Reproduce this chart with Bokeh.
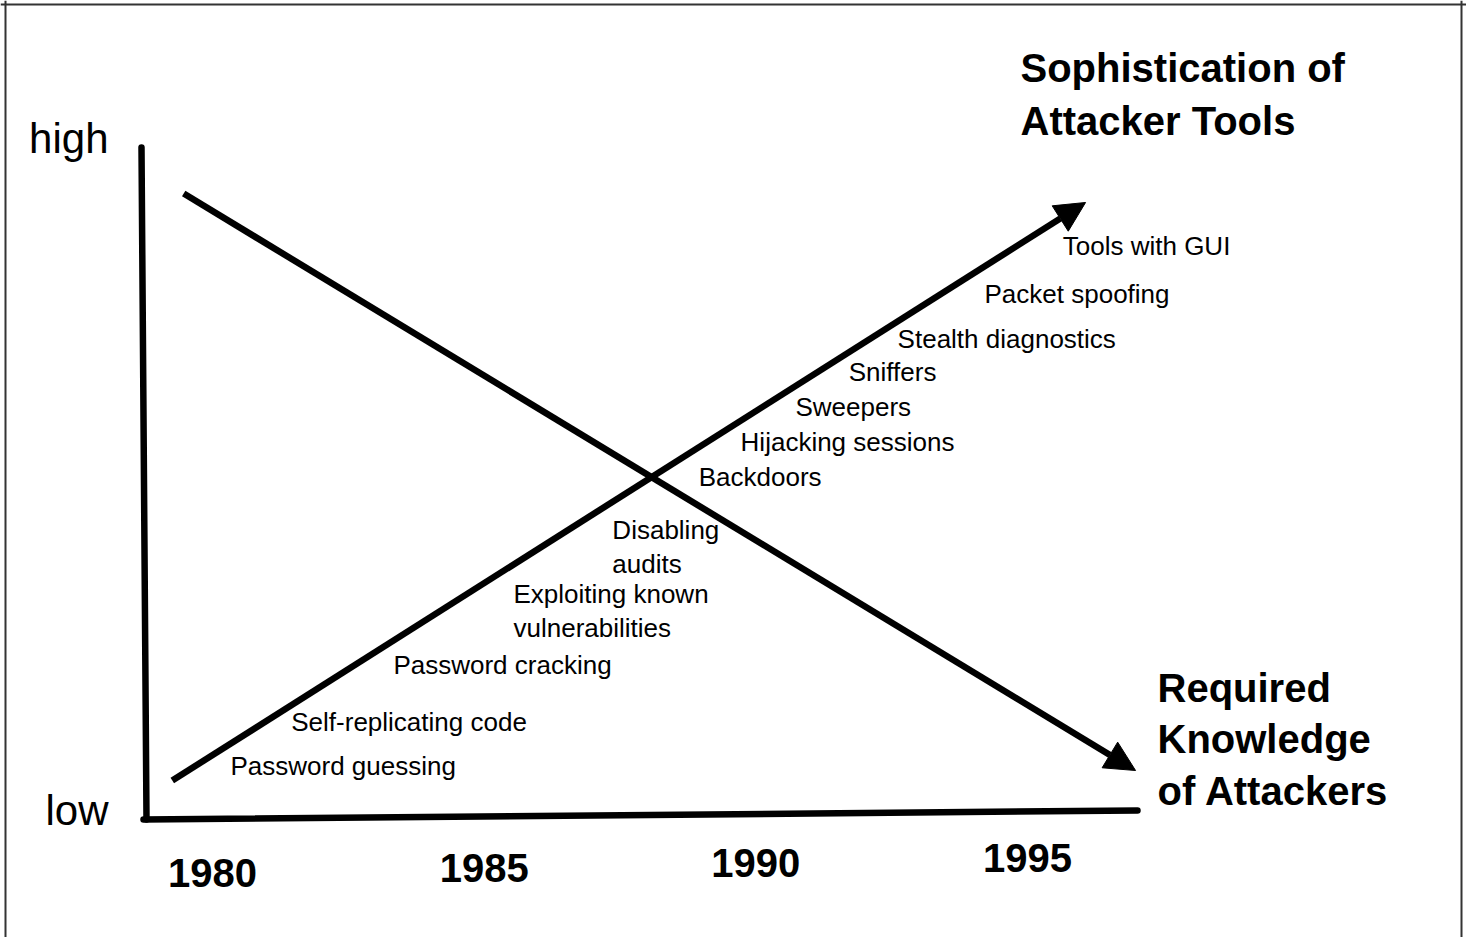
from bokeh.plotting import figure
from bokeh.models import Range1d, Arrow, NormalHead, ColumnDataSource, Span
from bokeh.core.properties import value
from bokeh.embed import file_html
from bokeh.resources import INLINE

# ---------------- data ----------------
years = [1980, 1985, 1990, 1995]
levels = [0, 100]
level_labels = ["low", "high"]

series_names = ["Sophistication of\nAttacker Tools", "Required\nKnowledge\nof Attackers"]
series_x_start = [1979.26, 1979.47]
series_y_start = [5.80, 93.15]
series_x_end = [1996.07, 1996.99]
series_y_end = [91.82, 7.29]

tools = ["Password guessing", "Self-replicating code", "Password cracking",
         "Exploiting known\nvulnerabilities", "Disabling\naudits", "Backdoors",
         "Hijacking sessions", "Sweepers", "Sniffers", "Stealth diagnostics",
         "Packet spoofing", "Tools with GUI"]
tool_year = [1980.33, 1981.45, 1983.33, 1985.54, 1987.36, 1988.95,
             1989.72, 1990.73, 1991.71, 1992.61, 1994.21, 1995.65]
tool_level = [7.89, 14.58, 22.92, 33.63, 43.01, 51.04,
              56.25, 61.31, 66.52, 71.43, 78.13, 85.27]

# ---------------- layout ----------------
W, H = 1466, 937
PX_PER_YEAR = 54.33
PX_PER_LEVEL = 6.72
X0 = 1980 - 212 / PX_PER_YEAR      # year at the left edge of the canvas
Y_TOP = 819 / PX_PER_LEVEL          # level at the top edge of the canvas
FONT = value("Liberation Sans")

def px_x(px):   # canvas pixel -> year (layout helper for decorations only)
    return X0 + px / PX_PER_YEAR

def px_y(py):   # canvas pixel -> level
    return Y_TOP - py / PX_PER_LEVEL

p = figure(width=W, height=H,
           x_range=Range1d(X0, X0 + W / PX_PER_YEAR),
           y_range=Range1d(Y_TOP - H / PX_PER_LEVEL, Y_TOP),
           output_backend="svg", toolbar_location=None,
           x_axis_type=None, y_axis_type=None, min_border=0)
p.outline_line_color = None
p.background_fill_color = "white"
p.border_fill_color = "white"

# page frame (left, top, right)
for loc in [px_x(5), px_x(1461)]:
    p.add_layout(Span(location=loc, dimension="height", line_color="#333333", line_width=2))
p.add_layout(Span(location=px_y(4), dimension="width", line_color="#333333", line_width=2))

# axes lines
p.line(x=[px_x(141), px_x(146)], y=[levels[1], levels[0]], line_width=6.5,
       line_color="black", line_cap="round")
p.line(x=[px_x(143), px_x(1137)], y=[levels[0], px_y(810)], line_width=6.5,
       line_color="black", line_cap="round")

# level labels (low / high)
p.text(x=[px_x(108)] * 2, y=[l + 1.3 for l in levels], text=level_labels,
       text_font=FONT, text_font_size="42px", text_align="right",
       text_baseline="middle", text_color="black")

# year labels
YEAR_LEVEL = -8.0
YEAR_TILT = 0.15
p.text(x=years, y=[YEAR_LEVEL + YEAR_TILT * (yr - years[0]) for yr in years],
       text=[str(y) for y in years], text_font=FONT, text_font_size="40px",
       text_font_style="bold", text_align="center", text_baseline="middle",
       text_color="black")

# trend arrows
src = ColumnDataSource(dict(x0=series_x_start, y0=series_y_start,
                            x1=series_x_end, y1=series_y_end))
p.add_layout(Arrow(x_start="x0", y_start="y0", x_end="x1", y_end="y1", source=src,
                   line_width=6.5, line_color="black", line_cap="butt",
                   end=NormalHead(size=30, fill_color="black", line_color="black",
                                  line_width=1, line_join="round")))

# tool labels
TOOL_GAP = 34 / PX_PER_LEVEL
lx, ly, lt = [], [], []
for name, xv, yv in zip(tools, tool_year, tool_level):
    for i, line in enumerate(name.split("\n")):
        lx.append(xv); ly.append(yv - i * TOOL_GAP); lt.append(line)
p.text(x=lx, y=ly, text=lt, text_font=FONT, text_font_size="26px",
       text_align="left", text_baseline="middle", text_color="black")

# series titles
title_pos = [(px_x(1020), px_y(67), 53), (px_x(1157), px_y(687), 51.5)]
tx, ty, tt = [], [], []
for name, (xv, yv, gap) in zip(series_names, title_pos):
    for i, line in enumerate(name.split("\n")):
        tx.append(xv); ty.append(yv - i * gap / PX_PER_LEVEL); tt.append(line)
p.text(x=tx, y=ty, text=tt, text_font=FONT, text_font_size="40px",
       text_font_style="bold", text_align="left", text_baseline="middle",
       text_color="black")

open("out.html", "w").write(file_html(p, INLINE))
